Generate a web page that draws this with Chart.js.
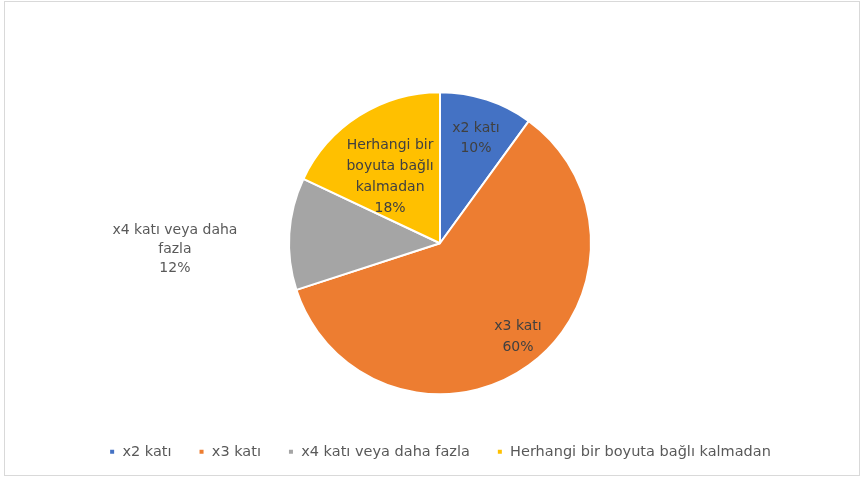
<!DOCTYPE html>
<html>
<head>
<meta charset="utf-8">
<script src="https://cdn.jsdelivr.net/npm/chart.js@4.4.1/dist/chart.umd.min.js"></script>
<style>
  html, body { margin: 0; padding: 0; background: #ffffff; }
  #wrap { position: relative; width: 864px; height: 479px; }
  #frame { position: absolute; left: 4px; top: 1px; width: 856px; height: 475px; border: 1px solid #d9d9d9; box-sizing: border-box; pointer-events: none; }
  canvas { position: absolute; left: 0; top: 0; }
</style>
</head>
<body>
<div id="wrap">
  <canvas id="c" width="864" height="479"></canvas>
  <div id="frame"></div>
</div>
<script>
const categories = ["x2 katı", "x3 katı", "x4 katı veya daha fazla", "Herhangi bir boyuta bağlı kalmadan"];
const values = [10, 60, 12, 18];
const percentLabels = ["10%", "60%", "12%", "18%"];
const labelLines = [["x2 katı"], ["x3 katı"], ["x4 katı veya daha", "fazla"], ["Herhangi bir", "boyuta bağlı", "kalmadan"]];
const colors = ["#4472C4", "#ED7D31", "#A5A5A5", "#FFC000"];

const FONT = "'DejaVu Sans', 'Noto Sans', sans-serif";

const sliceLabels = {
  id: 'sliceLabels',
  afterDatasetsDraw(chart, args, opts) {
    const ctx = chart.ctx;
    const meta = chart.getDatasetMeta(0);
    ctx.save();
    ctx.font = opts.size + 'px ' + FONT;
    ctx.textAlign = 'center';
    ctx.textBaseline = 'middle';
    meta.data.forEach((arc, i) => {
      const p = arc.getProps(['x', 'y', 'startAngle', 'endAngle', 'outerRadius'], true);
      const place = opts.place[i];
      const mid = (p.startAngle + p.endAngle) / 2 + place.delta * Math.PI / 180;
      const r = p.outerRadius * place.frac;
      const cx = p.x + Math.cos(mid) * r;
      const cy = p.y + Math.sin(mid) * r;
      const lines = labelLines[i].concat([percentLabels[i]]);
      const lh = place.lh;
      const top = cy - (lines.length - 1) * lh / 2;
      ctx.fillStyle = place.color;
      lines.forEach((t, k) => ctx.fillText(t, cx, top + k * lh));
    });
    ctx.restore();
  }
};

new Chart(document.getElementById('c'), {
  type: 'pie',
  data: {
    labels: categories,
    datasets: [{
      data: values,
      backgroundColor: colors,
      borderColor: '#ffffff',
      borderWidth: 2
    }]
  },
  options: {
    responsive: false,
    animation: false,
    radius: 151,
    layout: { padding: { left: 16, right: 0, top: 69, bottom: 10 } },
    plugins: {
      tooltip: { enabled: false },
      legend: {
        position: 'bottom',
        labels: {
          usePointStyle: true,
          pointStyle: 'rect',
          boxWidth: 6,
          boxHeight: 6,
          padding: 27,
          color: '#595959',
          font: { family: FONT, size: 14.5 }
        }
      },
      sliceLabels: {
        size: 14,
        place: [
          { frac: 0.735, delta: 0.9, lh: 20, color: '#404040' },
          { frac: 0.807, delta: -3.8, lh: 21, color: '#404040' },
          { frac: 1.756, delta: -4.9, lh: 19, color: '#595959' },
          { frac: 0.548, delta: -4.7, lh: 21, color: '#404040' }
        ]
      }
    }
  },
  plugins: [sliceLabels]
});
</script>
</body>
</html>
